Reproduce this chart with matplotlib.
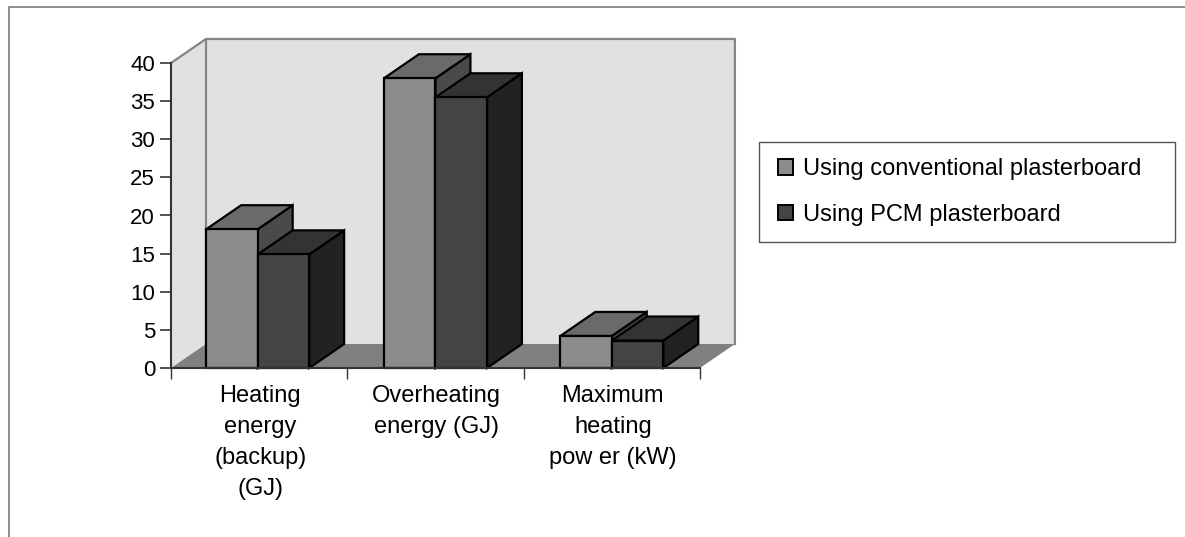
import numpy as np
import matplotlib
matplotlib.use('Agg')
import matplotlib.pyplot as plt
from matplotlib.patches import Polygon, Rectangle

plt.rcParams['font.family'] = ['Liberation Sans', 'DejaVu Sans']

categories = ['Heating\nenergy\n(backup)\n(GJ)', 'Overheating\nenergy (GJ)', 'Maximum\nheating\npow er (kW)']
conventional = [18.2, 38.0, 4.2]
pcm = [14.9, 35.5, 3.6]
series_names = ['Using conventional plasterboard', 'Using PCM plasterboard']
y_ticks = [0, 5, 10, 15, 20, 25, 30, 35, 40]

W, H = 1185, 537
bar_w = 0.292
dx, dy = 0.198, 3.15
nudge = [-0.008, 0.0, 0]

fig = plt.figure(figsize=(W / 100, H / 100), dpi=100)
ax = fig.add_axes([171 / W, (H - 368) / H, 529 / W, 305 / H])
ax.set_xlim(-0.5, 2.5)
ax.set_ylim(0, 40)
ax.patch.set_visible(False)

# outer chart border, no bottom edge in the reference
fig.add_artist(plt.Line2D([9 / W, 9 / W, 1], [0, 1 - 7 / H, 1 - 7 / H], color='#707070', lw=1.1))


def poly(points, fc, ec='black', lw=1.6, z=2):
    ax.add_patch(Polygon(points, closed=True, facecolor=fc, edgecolor=ec, linewidth=lw,
                         zorder=z, clip_on=False, joinstyle='miter'))


# walls and floor
x0, x1 = ax.get_xlim()
y0, y1 = ax.get_ylim()
poly([(x0 + dx, y0 + dy), (x1 + dx, y0 + dy), (x1 + dx, y1 + dy), (x0 + dx, y1 + dy)], '#e1e1e1', 'none', 0, 1)
poly([(x0, y0), (x0 + dx, y0 + dy), (x0 + dx, y1 + dy), (x0, y1)], '#e1e1e1', 'none', 0, 1)
poly([(x0, y0), (x0 + dx, y0 + dy), (x1 + dx, y0 + dy), (x1, y0)], '#808080', 'none', 0, 1)
ax.plot([x0, x0 + dx, x1 + dx, x1 + dx], [y1, y1 + dy, y1 + dy, y0 + dy], color='#858585', lw=1.6, zorder=1.5, clip_on=False)
ax.plot([x0 + dx, x0 + dx], [y0 + dy, y1 + dy], color='#858585', lw=1.6, zorder=1.5, clip_on=False)

# 3D bars: front from ax.bar, top and side faces from the same values
styles = [('#8c8c8c', '#6a6a6a', '#4a4a4a'), ('#444444', '#333333', '#222222')]
for i in range(len(categories)):
    for j, vals in enumerate([conventional, pcm]):
        front, top, side = styles[j]
        left = i + nudge[i] - bar_w + j * bar_w
        v = vals[i]
        z = 3 + i * 2 + j
        poly([(left + bar_w, 0), (left + bar_w + dx, dy), (left + bar_w + dx, v + dy), (left + bar_w, v)], side, z=z)
        poly([(left, v), (left + dx, v + dy), (left + bar_w + dx, v + dy), (left + bar_w, v)], top, z=z)
        ax.bar(left, v, bar_w, align='edge', color=front, edgecolor='black', linewidth=1.6, zorder=z, clip_on=False)

handles = [Rectangle((0, 0), 1, 1, facecolor=styles[k][0], edgecolor='black', linewidth=1.4) for k in range(2)]

ax.set_yticks(y_ticks)
ax.set_xticks([0.5 + k - 1 for k in range(len(categories) + 1)])
ax.set_xticklabels([])
for s in ['top', 'right']:
    ax.spines[s].set_visible(False)
for s in ['left', 'bottom']:
    ax.spines[s].set_color('#333333')
    ax.spines[s].set_linewidth(1.5)
    ax.spines[s].set_zorder(20)
ax.tick_params(axis='y', length=8, width=1.2, color='#333333', labelsize=16, pad=3.5)
ax.tick_params(axis='x', length=8, width=1.0, color='#333333')

for i, lab in enumerate(categories):
    ax.annotate(lab, (i, 0), xytext=(1, -17), textcoords='offset pixels', ha='center', va='top',
                fontsize=17, linespacing=1.53, annotation_clip=False)

# legend frame drawn apart so its padding can differ from the entry spacing
fig.add_artist(Rectangle((759 / W, 1 - 242 / H), 416 / W, 100 / H, transform=fig.transFigure,
                         facecolor='white', edgecolor='#555555', linewidth=1.0))
leg = fig.legend(handles, series_names, loc='upper left',
                 bbox_to_anchor=(778 / W, 1 - 158 / H), bbox_transform=fig.transFigure,
                 fontsize=17, frameon=False,
                 handlelength=0.64, handleheight=0.64, handletextpad=0.42,
                 labelspacing=1.0, borderpad=0, borderaxespad=0)

fig.savefig('out.png', dpi=100, facecolor='white')
